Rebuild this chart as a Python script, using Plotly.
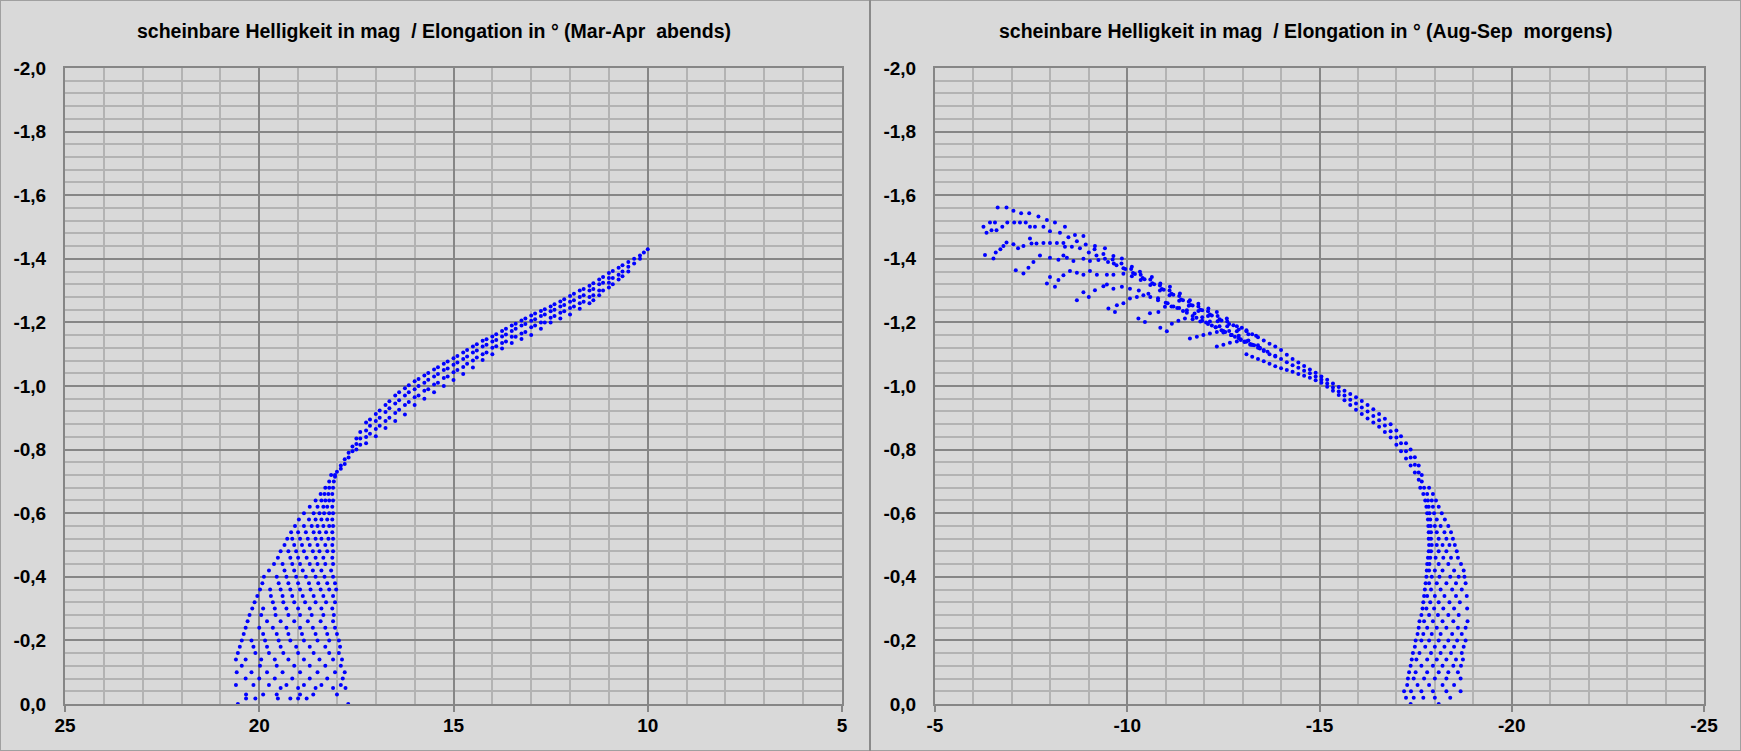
import plotly.graph_objects as go

# ---------------- data ----------------
# Left panel: evening apparitions Mar-Apr (elongation in deg, apparent magnitude)
left_band_elong = [10.0, 10.1, 10.2, 10.35, 10.5, 10.65, 10.75, 10.9, 11.0, 11.15, 11.25, 11.4, 11.5, 11.65,
                   11.75, 11.9, 12.0, 12.15, 12.25, 12.4, 12.5, 12.65, 12.75, 12.9, 13.0, 13.15, 13.25, 13.4,
                   13.5, 13.65, 13.75, 13.9, 14.0, 14.15, 14.25, 14.4, 14.5, 14.65, 14.75, 14.9, 15.0, 15.15,
                   15.25, 15.4, 15.5, 15.65, 15.75, 15.9, 16.0, 16.15, 16.25, 16.4, 16.5, 16.65, 16.75, 16.9,
                   17.0, 17.15, 17.25, 17.4, 17.5, 17.6, 17.7, 17.8, 17.9, 18.0, 18.05]
left_band_mag = [[-1.43], [-1.42], [-1.41, -1.40], [-1.40, -1.385], [-1.39, -1.375, -1.36], [-1.38, -1.36, -1.345],
                 [-1.372, -1.35, -1.335], [-1.362, -1.34, -1.32], [-1.355, -1.34, -1.325, -1.31],
                 [-1.343, -1.325, -1.30], [-1.335, -1.32, -1.30, -1.285], [-1.323, -1.305, -1.285, -1.27],
                 [-1.315, -1.30, -1.28, -1.26], [-1.305, -1.285, -1.265], [-1.30, -1.28, -1.26, -1.243],
                 [-1.29, -1.27, -1.25], [-1.283, -1.265, -1.245, -1.225], [-1.273, -1.255, -1.235],
                 [-1.266, -1.25, -1.23, -1.212], [-1.257, -1.24, -1.22], [-1.25, -1.235, -1.215, -1.20],
                 [-1.241, -1.225, -1.20], [-1.236, -1.22, -1.20, -1.18], [-1.228, -1.21, -1.19],
                 [-1.222, -1.205, -1.185, -1.16], [-1.212, -1.195, -1.17], [-1.206, -1.19, -1.165, -1.148],
                 [-1.196, -1.18, -1.155], [-1.19, -1.173, -1.155, -1.135], [-1.18, -1.162, -1.14],
                 [-1.173, -1.156, -1.135, -1.118], [-1.163, -1.145, -1.125], [-1.156, -1.14, -1.12, -1.10],
                 [-1.147, -1.13, -1.105], [-1.142, -1.124, -1.10, -1.082], [-1.131, -1.112, -1.09],
                 [-1.124, -1.105, -1.08, -1.058], [-1.113, -1.093, -1.07], [-1.105, -1.085, -1.06, -1.038],
                 [-1.094, -1.074, -1.05], [-1.087, -1.067, -1.043, -1.019], [-1.077, -1.055, -1.03],
                 [-1.07, -1.05, -1.025, -1.0], [-1.059, -1.038, -1.01], [-1.052, -1.03, -1.005, -0.98],
                 [-1.041, -1.02, -0.99], [-1.033, -1.01, -0.985, -0.96], [-1.022, -1.0, -0.97],
                 [-1.015, -0.99, -0.965, -0.94], [-1.002, -0.98, -0.95], [-0.993, -0.97, -0.94, -0.91],
                 [-0.98, -0.955, -0.925], [-0.97, -0.945, -0.915, -0.89], [-0.952, -0.93, -0.90],
                 [-0.94, -0.918, -0.89, -0.868], [-0.923, -0.90, -0.875], [-0.912, -0.89, -0.865, -0.842],
                 [-0.895, -0.875, -0.85], [-0.885, -0.86, -0.84, -0.82], [-0.855, -0.835, -0.815],
                 [-0.835, -0.818, -0.80], [-0.81, -0.795], [-0.79, -0.775], [-0.77, -0.755], [-0.75, -0.74],
                 [-0.73], [-0.715]]

left_fan_mag = [-0.72, -0.70, -0.68, -0.66, -0.64, -0.62, -0.60, -0.58, -0.56, -0.54, -0.52, -0.50, -0.48,
                -0.46, -0.44, -0.42, -0.40, -0.38, -0.36, -0.34, -0.32, -0.30, -0.28, -0.26, -0.24, -0.22,
                -0.20, -0.18, -0.16, -0.14, -0.12, -0.10, -0.08, -0.06, -0.05, -0.03, -0.017, 0.0]
left_fan_elong = [[18.05, 18.15], [18.08, 18.2], [18.1, 18.2, 18.3], [18.12, 18.22, 18.32, 18.42],
                  [18.1, 18.2, 18.3, 18.4, 18.55], [18.12, 18.25, 18.35, 18.5, 18.7],
                  [18.1, 18.2, 18.33, 18.45, 18.6, 18.85], [18.12, 18.25, 18.4, 18.55, 18.72, 18.98],
                  [18.1, 18.2, 18.35, 18.5, 18.65, 18.85, 19.08], [18.12, 18.28, 18.45, 18.6, 18.8, 19.0, 19.18],
                  [18.1, 18.22, 18.4, 18.55, 18.75, 18.95, 19.15, 19.28],
                  [18.12, 18.3, 18.5, 18.7, 18.9, 19.1, 19.35],
                  [18.1, 18.25, 18.45, 18.62, 18.85, 19.05, 19.25, 19.45],
                  [18.12, 18.35, 18.55, 18.78, 19.0, 19.2, 19.52],
                  [18.1, 18.3, 18.5, 18.7, 18.95, 19.15, 19.4, 19.62],
                  [18.15, 18.4, 18.62, 18.88, 19.1, 19.35, 19.75],
                  [18.1, 18.32, 18.55, 18.8, 19.05, 19.3, 19.55, 19.88],
                  [18.05, 18.25, 18.48, 18.72, 19.0, 19.25, 19.5, 19.92],
                  [18.02, 18.2, 18.42, 18.68, 18.95, 19.2, 19.45, 19.72, 19.98],
                  [18.1, 18.35, 18.6, 18.88, 19.15, 19.4, 19.7, 20.05],
                  [18.05, 18.28, 18.55, 18.82, 19.1, 19.38, 19.65, 20.12],
                  [18.12, 18.4, 18.7, 19.0, 19.3, 19.6, 19.9, 20.18],
                  [18.08, 18.35, 18.65, 18.95, 19.25, 19.58, 19.95, 20.25],
                  [18.1, 18.42, 18.75, 19.1, 19.45, 19.8, 20.3],
                  [18.05, 18.3, 18.62, 18.95, 19.3, 19.65, 20.0, 20.35],
                  [18.0, 18.25, 18.55, 18.9, 19.25, 19.55, 19.9, 20.4],
                  [17.95, 18.2, 18.5, 18.85, 19.2, 19.5, 19.85, 20.2, 20.45],
                  [17.92, 18.3, 18.7, 19.05, 19.45, 19.8, 20.15, 20.5],
                  [17.95, 18.2, 18.6, 19.0, 19.38, 19.75, 20.1, 20.55],
                  [17.87, 18.1, 18.45, 18.85, 19.25, 19.6, 19.95, 20.35, 20.6],
                  [17.9, 18.3, 18.7, 19.1, 19.55, 19.98, 20.45],
                  [17.8, 18.05, 18.5, 18.95, 19.4, 19.8, 20.2, 20.58],
                  [17.85, 18.25, 18.7, 19.15, 19.6, 20.0, 20.35],
                  [17.9, 18.4, 18.85, 19.3, 19.75, 20.15, 20.6],
                  [17.78, 18.1, 18.55, 19.0, 19.45],
                  [18.0, 18.61, 18.95, 19.55, 19.9, 20.34],
                  [18.78, 19.0, 19.2, 19.52, 20.1, 20.34],
                  [17.71, 20.55]]

# Right panel: morning apparitions Aug-Sep
right_arc_1 = [(-6.63, -1.561), (-6.86, -1.561), (-7.04, -1.551), (-7.24, -1.543), (-7.45, -1.543), (-7.69, -1.533),
               (-7.91, -1.522), (-8.12, -1.514), (-8.38, -1.501), (-8.64, -1.475), (-8.86, -1.472), (-9.16, -1.44),
               (-9.42, -1.433), (-9.64, -1.409), (-9.86, -1.401), (-10.12, -1.375), (-10.33, -1.359),
               (-10.64, -1.343), (-10.86, -1.322), (-11.11, -1.312), (-11.37, -1.291), (-11.63, -1.27),
               (-11.85, -1.259), (-12.11, -1.244), (-12.33, -1.233), (-12.59, -1.212), (-12.76, -1.191),
               (-12.98, -1.183)]
right_arc_2 = [(-6.26, -1.501), (-6.43, -1.514), (-6.56, -1.514), (-6.75, -1.501), (-6.88, -1.514), (-7.06, -1.514),
               (-7.21, -1.514), (-7.36, -1.514), (-7.47, -1.501), (-7.60, -1.501), (-7.82, -1.501), (-7.99, -1.487),
               (-8.25, -1.482), (-8.47, -1.468), (-8.69, -1.455), (-8.92, -1.445), (-9.15, -1.43), (-9.38, -1.415),
               (-9.62, -1.398), (-9.85, -1.385), (-10.1, -1.368), (-10.35, -1.35), (-10.6, -1.335), (-10.85, -1.316),
               (-11.1, -1.30), (-11.35, -1.283), (-11.6, -1.265), (-11.85, -1.25), (-12.1, -1.235), (-12.35, -1.22),
               (-12.6, -1.203), (-12.85, -1.188), (-13.1, -1.172), (-13.35, -1.158)]
right_arc_3 = [(-6.34, -1.482), (-6.47, -1.49), (-6.60, -1.49)]
right_arc_4 = [(-6.30, -1.412), (-6.52, -1.401), (-6.58, -1.42), (-6.70, -1.43), (-6.78, -1.44), (-6.86, -1.451),
               (-7.04, -1.446), (-7.16, -1.433), (-7.30, -1.44), (-7.47, -1.464), (-7.51, -1.448), (-7.64, -1.448),
               (-7.82, -1.45), (-7.99, -1.45), (-8.17, -1.45), (-8.34, -1.45), (-8.38, -1.438), (-8.56, -1.438),
               (-8.77, -1.433), (-9.0, -1.42), (-9.2, -1.41), (-9.42, -1.40), (-9.65, -1.385), (-9.9, -1.37),
               (-10.15, -1.355), (-10.4, -1.34), (-10.65, -1.323), (-10.9, -1.305), (-11.15, -1.29), (-11.4, -1.272),
               (-11.65, -1.255), (-11.9, -1.24), (-12.15, -1.225), (-12.4, -1.21), (-12.65, -1.195), (-12.9, -1.178),
               (-13.15, -1.163)]
right_arc_5 = [(-7.10, -1.364), (-7.30, -1.354), (-7.43, -1.372), (-7.56, -1.39), (-7.73, -1.41), (-7.99, -1.403),
               (-8.21, -1.397), (-8.34, -1.41), (-8.43, -1.403), (-8.60, -1.393), (-8.86, -1.40), (-9.03, -1.393),
               (-9.25, -1.396), (-9.5, -1.39), (-9.72, -1.38), (-9.95, -1.368), (-10.2, -1.352), (-10.45, -1.336),
               (-10.7, -1.32), (-10.95, -1.303), (-11.2, -1.287), (-11.45, -1.27), (-11.7, -1.253), (-11.95, -1.238),
               (-12.2, -1.222), (-12.45, -1.206)]
right_arc_6 = [(-7.91, -1.322), (-8.12, -1.312), (-7.99, -1.343), (-8.21, -1.333), (-8.34, -1.348), (-8.51, -1.362),
               (-8.69, -1.356), (-8.86, -1.35), (-9.03, -1.362), (-9.21, -1.35), (-9.47, -1.35), (-9.64, -1.35),
               (-9.9, -1.353), (-10.12, -1.345), (-10.35, -1.333), (-10.6, -1.318), (-10.85, -1.30), (-11.1, -1.285),
               (-11.35, -1.268), (-11.6, -1.252), (-11.85, -1.236), (-12.1, -1.22), (-12.35, -1.204), (-12.6, -1.188),
               (-12.85, -1.172)]
right_arc_7 = [(-8.69, -1.27), (-8.86, -1.295), (-9.0, -1.28), (-9.16, -1.301), (-9.38, -1.314), (-9.47, -1.319),
               (-9.64, -1.306), (-9.86, -1.312), (-10.07, -1.306), (-10.3, -1.30), (-10.55, -1.29), (-10.8, -1.276),
               (-11.05, -1.26), (-11.3, -1.245), (-11.55, -1.23), (-11.8, -1.215), (-12.05, -1.20), (-12.3, -1.185),
               (-12.55, -1.17), (-12.8, -1.155), (-13.05, -1.14)]
right_arc_8 = [(-9.51, -1.244), (-9.68, -1.233), (-9.73, -1.254), (-9.90, -1.26), (-10.07, -1.275), (-10.25, -1.28),
               (-10.42, -1.285), (-10.6, -1.28), (-10.8, -1.27), (-11.0, -1.262), (-11.2, -1.25), (-11.45, -1.236),
               (-11.7, -1.22), (-11.95, -1.205), (-12.2, -1.19), (-12.45, -1.175), (-12.7, -1.16), (-12.95, -1.145),
               (-13.2, -1.13)]
right_arc_9 = [(-10.29, -1.212), (-10.46, -1.201), (-10.59, -1.229), (-10.81, -1.233), (-10.98, -1.249),
               (-11.15, -1.25), (-11.35, -1.245), (-11.55, -1.238), (-11.75, -1.228), (-11.95, -1.216),
               (-12.15, -1.203), (-12.4, -1.188), (-12.65, -1.173), (-12.9, -1.158), (-13.15, -1.143), (-13.4, -1.128)]
right_arc_10 = [(-10.86, -1.183), (-11.03, -1.172), (-11.16, -1.196), (-11.33, -1.205), (-11.50, -1.212),
                (-11.7, -1.21), (-11.9, -1.203), (-12.1, -1.195), (-12.3, -1.185), (-12.5, -1.173), (-12.72, -1.16),
                (-12.95, -1.147), (-13.2, -1.132), (-13.45, -1.118)]
right_arc_11 = [(-11.63, -1.149), (-11.81, -1.155), (-11.98, -1.16), (-12.15, -1.165), (-12.33, -1.17),
                (-12.5, -1.168), (-12.7, -1.16), (-12.9, -1.15), (-13.1, -1.14), (-13.3, -1.128), (-13.55, -1.113)]
right_arc_12 = [(-12.33, -1.124), (-12.5, -1.13), (-12.67, -1.136), (-12.85, -1.14), (-13.05, -1.138),
                (-13.25, -1.13), (-13.45, -1.12), (-13.65, -1.108), (-13.85, -1.095)]

right_band_elong = [-13.1, -13.25, -13.4, -13.55, -13.7, -13.85, -14.0, -14.15, -14.3, -14.45, -14.6, -14.75,
                    -14.9, -15.05, -15.2, -15.35, -15.5, -15.65, -15.8, -15.95, -16.1, -16.25, -16.4, -16.55,
                    -16.7, -16.85, -17.0, -17.12, -17.25, -17.37, -17.48, -17.58, -17.66]
right_band_mag = [[-1.175, -1.14, -1.10], [-1.163, -1.13, -1.092], [-1.153, -1.12, -1.085], [-1.143, -1.11, -1.078],
                  [-1.133, -1.10, -1.07], [-1.124, -1.093, -1.062], [-1.113, -1.085, -1.056], [-1.098, -1.075, -1.05],
                  [-1.085, -1.065, -1.045], [-1.074, -1.057, -1.038], [-1.063, -1.048, -1.032],
                  [-1.052, -1.04, -1.026], [-1.042, -1.03, -1.018], [-1.03, -1.02, -1.01], [-1.02, -1.008, -0.998],
                  [-1.008, -0.995, -0.985], [-0.997, -0.983, -0.972], [-0.985, -0.97, -0.955],
                  [-0.975, -0.957, -0.94], [-0.965, -0.945, -0.925], [-0.953, -0.932, -0.912],
                  [-0.94, -0.92, -0.898], [-0.927, -0.906, -0.885], [-0.912, -0.892, -0.872],
                  [-0.897, -0.876, -0.855], [-0.88, -0.858, -0.838], [-0.86, -0.838, -0.815],
                  [-0.842, -0.82, -0.795], [-0.82, -0.795, -0.772], [-0.80, -0.775, -0.75],
                  [-0.776, -0.752, -0.728], [-0.75, -0.728, -0.705], [-0.72, -0.70]]

right_fan_mag = [-0.68, -0.66, -0.64, -0.62, -0.60, -0.58, -0.56, -0.54, -0.52, -0.50, -0.48, -0.46, -0.44,
                 -0.42, -0.40, -0.38, -0.36, -0.34, -0.32, -0.30, -0.28, -0.26, -0.24, -0.22, -0.20, -0.18,
                 -0.16, -0.14, -0.12, -0.10, -0.08, -0.06, -0.04, -0.02, 0.0]
right_fan_elong = [[-17.62, -17.72, -17.85], [-17.7, -17.8, -17.95], [-17.75, -17.82, -17.92, -18.03],
                   [-17.78, -17.84, -17.95, -18.1], [-17.8, -17.86, -17.98, -18.18],
                   [-17.82, -17.88, -18.05, -18.26], [-17.83, -17.89, -18.0, -18.15, -18.35],
                   [-17.84, -17.9, -18.05, -18.25, -18.42], [-17.84, -17.9, -18.1, -18.3, -18.47],
                   [-17.85, -17.92, -18.05, -18.2, -18.38, -18.52], [-17.84, -17.9, -18.1, -18.3, -18.57],
                   [-17.82, -17.88, -18.02, -18.22, -18.42, -18.6], [-17.8, -17.86, -18.1, -18.35, -18.68],
                   [-17.79, -17.85, -18.0, -18.2, -18.5, -18.75], [-17.78, -17.92, -18.12, -18.4, -18.62, -18.77],
                   [-17.76, -17.85, -18.05, -18.3, -18.55, -18.8], [-17.74, -17.9, -18.15, -18.45, -18.7],
                   [-17.72, -17.8, -18.0, -18.25, -18.55, -18.83], [-17.7, -17.88, -18.1, -18.38, -18.65],
                   [-17.68, -17.78, -17.98, -18.22, -18.5, -18.84], [-17.65, -17.85, -18.08, -18.35, -18.62],
                   [-17.6, -17.72, -17.95, -18.2, -18.48, -18.85], [-17.58, -17.8, -18.05, -18.3, -18.6, -18.8],
                   [-17.55, -17.7, -17.92, -18.15, -18.45, -18.7],
                   [-17.5, -17.65, -17.85, -18.1, -18.35, -18.58, -18.8],
                   [-17.48, -17.75, -18.0, -18.25, -18.5, -18.75], [-17.43, -17.6, -17.9, -18.15, -18.42, -18.7],
                   [-17.4, -17.52, -17.8, -18.05, -18.3, -18.55, -18.73],
                   [-17.37, -17.65, -17.95, -18.2, -18.48, -18.68], [-17.33, -17.5, -17.8, -18.1, -18.35, -18.6],
                   [-17.3, -17.45, -17.72, -18.0, -18.3, -18.67], [-17.28, -17.55, -17.85, -18.2, -18.5],
                   [-17.2, -17.38, -17.65, -17.95, -18.3, -18.67], [-17.25, -17.45, -17.7, -18.0, -18.4],
                   [-17.37, -18.1]]

mag_ticks = [0.0, -0.2, -0.4, -0.6, -0.8, -1.0, -1.2, -1.4, -1.6, -1.8, -2.0]
mag_labels = ["0,0", "-0,2", "-0,4", "-0,6", "-0,8", "-1,0", "-1,2", "-1,4", "-1,6", "-1,8", "-2,0"]
left_elong_ticks = [25, 20, 15, 10, 5]
left_elong_labels = ["25", "20", "15", "10", "5"]
right_elong_ticks = [-5, -10, -15, -20, -25]
right_elong_labels = ["-5", "-10", "-15", "-20", "-25"]

title_left = "scheinbare Helligkeit in mag\u00a0 / Elongation in ° (Mar-Apr\u00a0 abends)"
title_right = "scheinbare Helligkeit in mag\u00a0 / Elongation in ° (Aug-Sep\u00a0 morgens)"

# ---------------- assemble points ----------------
def columns(xs, ys_lists):
    px, py = [], []
    for x, ys in zip(xs, ys_lists):
        for y in ys:
            px.append(x)
            py.append(y)
    return px, py

def rows(ys, xs_lists):
    px, py = [], []
    for y, xs in zip(ys, xs_lists):
        for x in xs:
            px.append(x)
            py.append(y)
    return px, py

lbx, lby = columns(left_band_elong, left_band_mag)
lfx, lfy = rows(left_fan_mag, left_fan_elong)
left_x = lbx + lfx
left_y = lby + lfy

right_x, right_y = [], []
for arc in [right_arc_1, right_arc_2, right_arc_3, right_arc_4, right_arc_5, right_arc_6, right_arc_7,
            right_arc_8, right_arc_9, right_arc_10, right_arc_11, right_arc_12]:
    for x, y in arc:
        right_x.append(x)
        right_y.append(y)
rbx, rby = columns(right_band_elong, right_band_mag)
rfx, rfy = rows(right_fan_mag, right_fan_elong)
right_x += rbx + rfx
right_y += rby + rfy

# ---------------- figure ----------------
W, H = 1741, 751
BG = "#d9d9d9"
MAJOR = "#868686"
MINOR = "#b3b3b3"
FONT = "Liberation Sans, Arial, sans-serif"
marker = dict(color="#0000ff", size=4, line=dict(width=0))

fig = go.Figure()
fig.add_trace(go.Scatter(x=left_x, y=left_y, mode="markers", marker=marker, xaxis="x", yaxis="y",
                         showlegend=False, hoverinfo="x+y"))
fig.add_trace(go.Scatter(x=right_x, y=right_y, mode="markers", marker=marker, xaxis="x2", yaxis="y2",
                         showlegend=False, hoverinfo="x+y"))

ydom = [1 - 704 / H, 1 - 68 / H]
tickfont = dict(family=FONT, size=19, color="black", weight="bold")

def xaxis(domain, rng, ticks, labels, minor_vals, anchor):
    return dict(domain=domain, range=rng, anchor=anchor, automargin=False,
                tickmode="array", tickvals=ticks, ticktext=labels,
                showgrid=True, gridcolor=MAJOR, gridwidth=2, zeroline=False,
                showline=True, linecolor=MAJOR, linewidth=2, mirror=True,
                ticks="outside", ticklen=6, tickwidth=2, tickcolor=MAJOR, ticklabelstandoff=-3,
                tickfont=tickfont,
                minor=dict(tickmode="array", tickvals=minor_vals, showgrid=True, gridcolor=MINOR,
                           gridwidth=1.5, ticks=""))

def yaxis(anchor):
    return dict(domain=ydom, range=[0, -2], anchor=anchor, automargin=False,
                tickmode="array", tickvals=mag_ticks,
                ticktext=mag_labels, showgrid=True, gridcolor=MAJOR, gridwidth=2, zeroline=False,
                showline=True, linecolor=MAJOR, linewidth=2, mirror=True, ticks="",
                ticklabelstandoff=13, tickfont=tickfont,
                minor=dict(tickmode="array", tickvals=[round(-0.04 * i, 2) for i in range(1, 50) if i % 5],
                           showgrid=True, gridcolor=MINOR, gridwidth=1.5, ticks=""))

left_minor = [v for v in range(6, 25) if v % 5]
right_minor = [-v for v in range(6, 25) if v % 5]

title_font = dict(family=FONT, size=19.5, color="black", weight="bold")

fig.update_layout(
    width=W, height=H, autosize=False,
    margin=dict(l=0, r=0, t=0, b=0, pad=0),
    paper_bgcolor=BG, plot_bgcolor=BG,
    xaxis=xaxis([65 / W, 842 / W], [25, 5], left_elong_ticks, left_elong_labels, left_minor, "y"),
    yaxis=yaxis("x"),
    xaxis2=xaxis([935 / W, 1704 / W], [-5, -25], right_elong_ticks, right_elong_labels, right_minor, "y2"),
    yaxis2=yaxis("x2"),
    annotations=[
        dict(text=title_left, x=434 / W, y=1 - 31 / H, xref="paper", yref="paper", showarrow=False,
             xanchor="center", yanchor="middle", font=title_font),
        dict(text=title_right, x=1305 / W, y=1 - 31 / H, xref="paper", yref="paper", showarrow=False,
             xanchor="center", yanchor="middle", font=title_font),
    ],
    shapes=[
        dict(type="rect", xref="paper", yref="paper", x0=0, y0=0, x1=1, y1=1,
             line=dict(color="#a0a0a0", width=2)),
        dict(type="line", xref="paper", yref="paper", x0=870 / W, x1=870 / W, y0=0, y1=1,
             line=dict(color="#8a8a8a", width=2)),
    ],
)

fig.write_html("out.html", config={"displayModeBar": False},
               post_script="document.body.style.margin='0';document.body.style.padding='0';"
                           "document.body.style.overflow='hidden';")
